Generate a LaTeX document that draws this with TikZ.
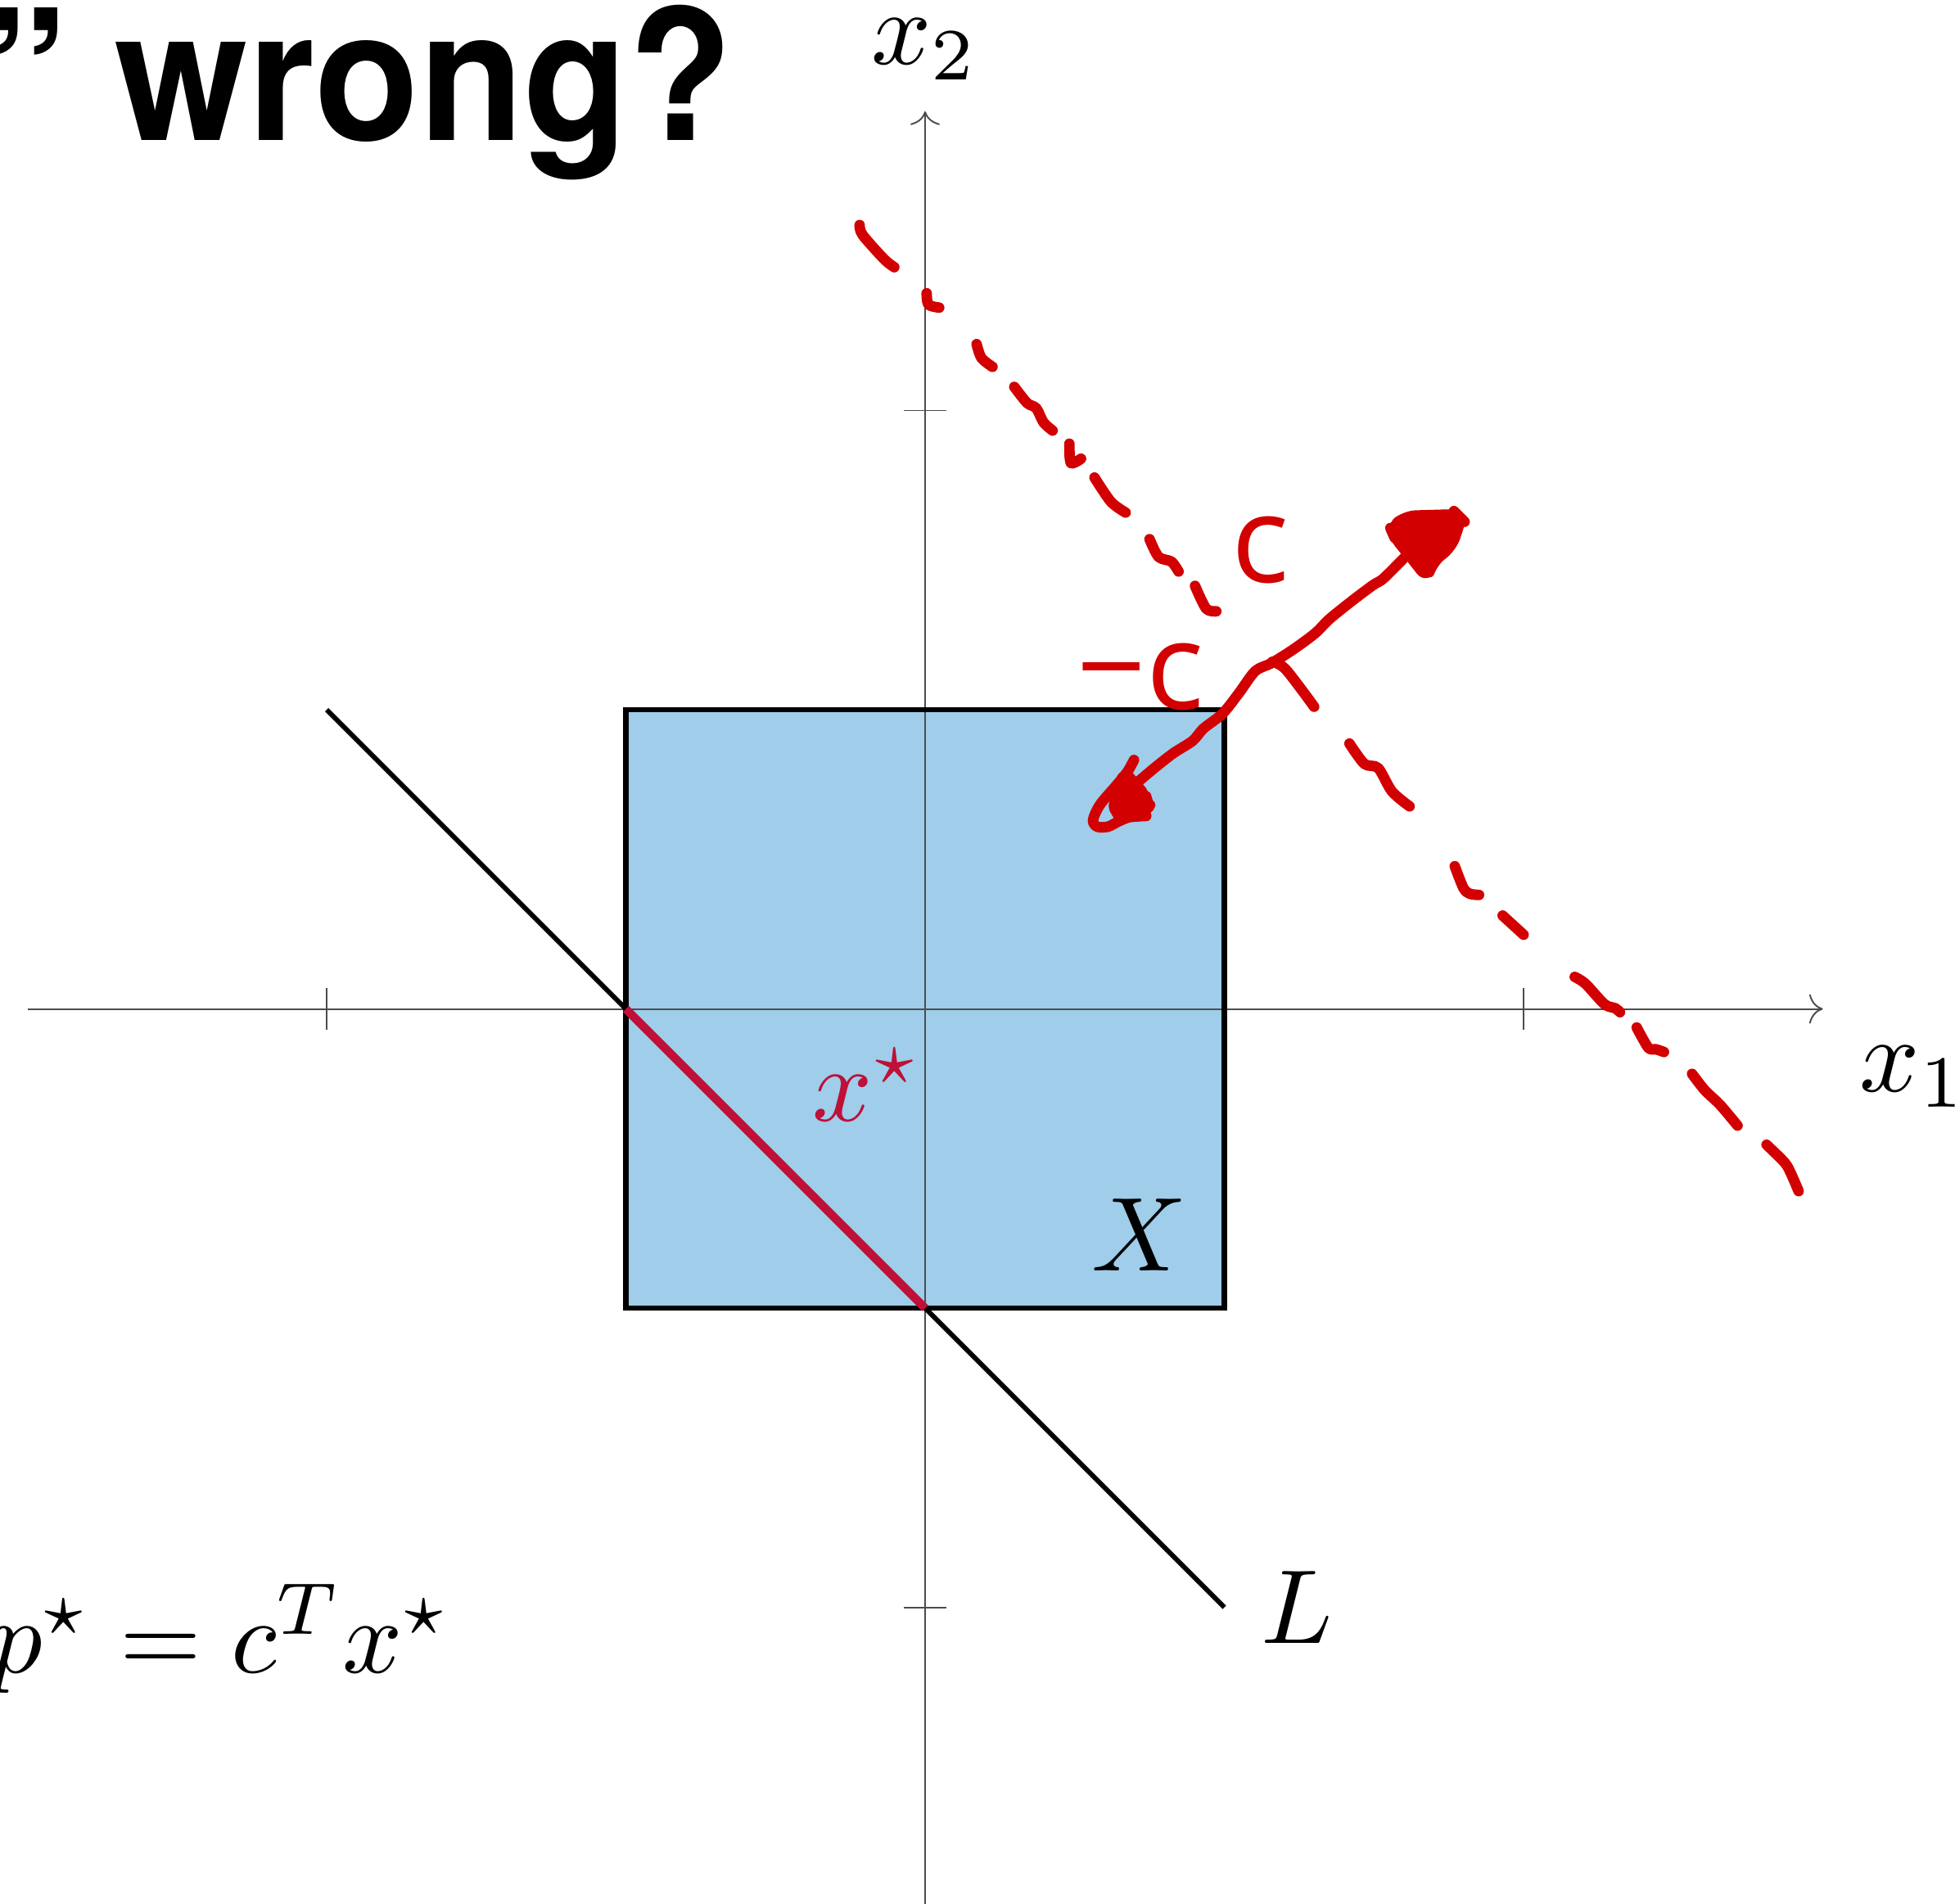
\documentclass[tikz,border=0pt]{standalone}
\usepackage{fontspec}
\usepackage{xcolor}
\usepackage{tikz}
\usetikzlibrary{arrows.meta}

\newfontfamily\titlefont[FakeStretch=0.94]{TeX Gyre Heros}
\newfontfamily\handfont{Open Sans}
\definecolor{setblue}{RGB}{159,205,234}
\definecolor{optcrimson}{RGB}{190,16,56}
\definecolor{penred}{RGB}{210,0,0}

\begin{document}
\begin{tikzpicture}[
  axis/.style={draw=black!70, line width=0.15pt},
  axistip/.style={-{To[length=1.3pt, width=2.8pt]}},
  feasible/.style={fill=setblue},
  setedge/.style={draw=black, line width=0.5pt},
  lline/.style={draw=black, line width=0.45pt},
  optseg/.style={draw=optcrimson, line width=0.8pt},
  pen/.style={draw=penred, line width=1pt, line cap=round, line join=round},
  penfill/.style={fill=penred, draw=penred, line width=1pt, line join=round, rounded corners=1pt},
  handtext/.style={text=penred, font=\handfont\fontsize{11.5}{13}\selectfont, inner sep=0pt},
  titletext/.style={font=\titlefont\bfseries\fontsize{17.3}{20}\selectfont, inner sep=0pt}
]

% Frame
\path[use as bounding box, fill=white] (-3.0917,-2.9891) rectangle (3.4418,3.3721);

% Feasible set
\fill[feasible] (-1,-1) rectangle (1,1);

% Axes
\draw[axis, axistip] (-3,0) -- (3,0);
\draw[axis, axistip] (0,-3) -- (0,3);
\foreach \t in {-2,2} {
  \draw[axis] (\t,0.07) -- (\t,-0.07);
  \draw[axis] (0.07,\t) -- (-0.07,\t);
}
\draw[setedge] (-1,-1) rectangle (1,1);

% Line L and optimal set
\draw[lline] (-2,1) -- (1,-2);
\draw[optseg] (-1,0) -- (0,-1);

% Labels
\node (xonelab) [below right] at (3,0) {$x_1$};
\node (xtwolab) [anchor=base, inner sep=0.5pt] at (0,3.157) {$x_2$};
\node (setlab) [above left] at (1,-1) {$X$};
\node (linelab) [right] at (1,-2) {$L$};
\node (optlab) [above right, text=optcrimson] at (-0.5,-0.5) {$x^\star$};
\node (objlab) [anchor=base east] at (-1.46,-2.218) {$p^\star = c^T x^\star$};
\node (title) [titletext, anchor=base east] at (-0.635,2.904) {” wrong?};

% Hand-drawn level line
\draw[pen] plot[smooth] coordinates {(-0.219,2.620) (-0.209,2.587) (-0.137,2.506) (-0.103,2.479)};
\draw[pen] plot[smooth] coordinates {(0.005,2.392) (0.011,2.354) (0.047,2.344)};
\draw[pen] plot[smooth] coordinates {(0.172,2.222) (0.188,2.176) (0.225,2.146)};
\draw[pen] plot[smooth] coordinates {(0.298,2.079) (0.341,2.025) (0.371,2.008) (0.396,1.960) (0.426,1.933)};
\draw[pen] plot[smooth] coordinates {(0.482,1.889) (0.487,1.825) (0.521,1.839)};
\draw[pen] plot[smooth] coordinates {(0.566,1.776) (0.621,1.695) (0.670,1.659)};
\draw[pen] plot[smooth] coordinates {(0.750,1.570) (0.780,1.511) (0.823,1.495) (0.847,1.462)};
\draw[pen] plot[smooth] coordinates {(0.902,1.414) (0.939,1.338) (0.973,1.329)};
\draw[pen] plot[smooth] coordinates {(1.160,1.160) (1.205,1.135) (1.300,1.010)};
\draw[pen] plot[smooth] coordinates {(1.418,0.887) (1.468,0.819) (1.514,0.805) (1.560,0.727) (1.619,0.677)};
\draw[pen] plot[smooth] coordinates {(1.770,0.477) (1.799,0.404) (1.820,0.385) (1.851,0.381)};
\draw[pen] plot[smooth] coordinates {(1.930,0.312) (2.000,0.248)};
\draw[pen] plot[smooth] coordinates {(2.171,0.107) (2.207,0.084) (2.270,0.016) (2.307,0.002) (2.322,-0.011)};
\draw[pen] plot[smooth] coordinates {(2.378,-0.062) (2.417,-0.130) (2.443,-0.135) (2.469,-0.144)};
\draw[pen] plot[smooth] coordinates {(2.563,-0.217) (2.605,-0.271) (2.657,-0.321) (2.715,-0.390)};
\draw[pen] plot[smooth] coordinates {(2.812,-0.454) (2.872,-0.513) (2.893,-0.549) (2.919,-0.609)};

% Hand-drawn direction c and -c
\coordinate (ctail) at (0.707,0.755);
\coordinate (chead) at (1.605,1.512);
\draw[pen] plot[smooth, tension=0.5] coordinates {(ctail) (0.766,0.805) (0.830,0.855) (0.894,0.896) (0.930,0.937) (0.994,0.987) (1.049,1.056) (1.103,1.129) (1.158,1.156) (1.231,1.202) (1.304,1.256) (1.350,1.302) (1.423,1.361) (1.496,1.416) (1.532,1.439) (chead)};
\draw[penfill] (1.555,1.607) -- (1.605,1.648) -- (1.778,1.653) -- (1.792,1.639) -- (1.760,1.544) -- (1.696,1.493) -- (1.678,1.439) -- (1.614,1.521) -- (1.569,1.575) -- cycle;
\draw[penfill] (0.661,0.796) -- (0.702,0.755) -- (0.739,0.709) -- (0.748,0.677) -- (0.730,0.654) -- (0.675,0.645) -- (0.620,0.659) -- (0.648,0.727) -- cycle;
\draw[pen] plot[smooth] coordinates {(0.698,0.832) (0.675,0.791) (0.638,0.746) (0.584,0.682) (0.561,0.631) (0.575,0.609) (0.611,0.609) (0.647,0.627) (0.684,0.641) (0.739,0.645)};
\node (clab) [handtext] at (1.122,1.535) {c};
\node (mclab) [handtext] at (0.72,1.11) {−c};
\end{tikzpicture}
\end{document}
